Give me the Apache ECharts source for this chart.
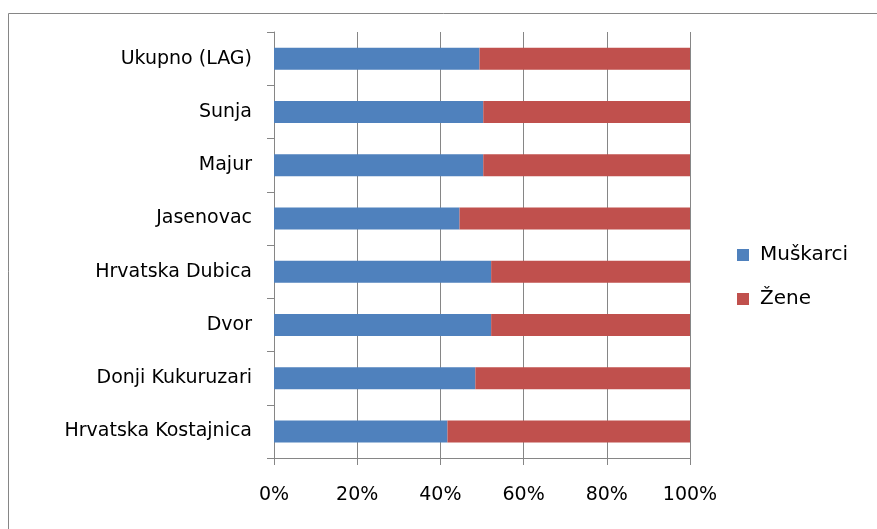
<!DOCTYPE html>
<html>
<head>
<meta charset="utf-8">
<script src="https://cdn.jsdelivr.net/npm/echarts@6/dist/echarts.min.js"></script>
<style>
html,body{margin:0;padding:0;background:#fff;}
#c{width:877px;height:529px;}
</style>
</head>
<body>
<div id="c"></div>
<script>
const categories = ['Ukupno (LAG)', 'Sunja', 'Majur', 'Jasenovac', 'Hrvatska Dubica', 'Dvor', 'Donji Kukuruzari', 'Hrvatska Kostajnica'];
const muskarci = [49.4, 50.3, 50.3, 44.6, 52.2, 52.2, 48.4, 41.7];
const zene = [50.6, 49.7, 49.7, 55.4, 47.8, 47.8, 51.6, 58.3];
const xTicks = [0, 20, 40, 60, 80, 100];

const FONT = 'DejaVu Sans';
const AXIS = '#868686';
const chart = echarts.init(document.getElementById('c'));
chart.setOption({
  animation: false,
  backgroundColor: '#fff',
  graphic: [{
    type: 'rect', shape: {x: 8.5, y: 13.5, width: 900, height: 560},
    style: {fill: 'none', stroke: AXIS, lineWidth: 1}, silent: true, z: -1
  }],
  grid: {left: 274, right: 187, top: 32, bottom: 71, containLabel: false},
  legend: {
    orient: 'vertical', left: 732, top: 240,
    icon: 'rect', itemWidth: 12, itemHeight: 12, itemGap: 24,
    textStyle: {fontFamily: FONT, fontSize: 20, color: '#000', padding: [0, 0, 0, 6]},
    data: ['Muškarci', 'Žene']
  },
  xAxis: {
    type: 'value', min: xTicks[0], max: xTicks[xTicks.length - 1], interval: 20,
    axisLine: {show: true, lineStyle: {color: AXIS, width: 1}},
    axisTick: {show: true, length: 7, lineStyle: {color: AXIS}},
    splitLine: {show: true, lineStyle: {color: AXIS, width: 1}},
    axisLabel: {formatter: '{value}%', fontFamily: FONT, fontSize: 19, color: '#000', margin: 28}
  },
  yAxis: {
    type: 'category', data: categories, inverse: true,
    axisLine: {show: true, lineStyle: {color: AXIS, width: 1}},
    axisTick: {show: true, length: 7, lineStyle: {color: AXIS}},
    axisLabel: {fontFamily: FONT, fontSize: 19, color: '#000', margin: 22}
  },
  series: [
    {name: 'Muškarci', type: 'bar', stack: 'a', data: muskarci, barWidth: 22,
     itemStyle: {color: '#4F81BD'}},
    {name: 'Žene', type: 'bar', stack: 'a', data: zene, barWidth: 22,
     itemStyle: {color: '#C0504D'}}
  ]
});
</script>
</body>
</html>
